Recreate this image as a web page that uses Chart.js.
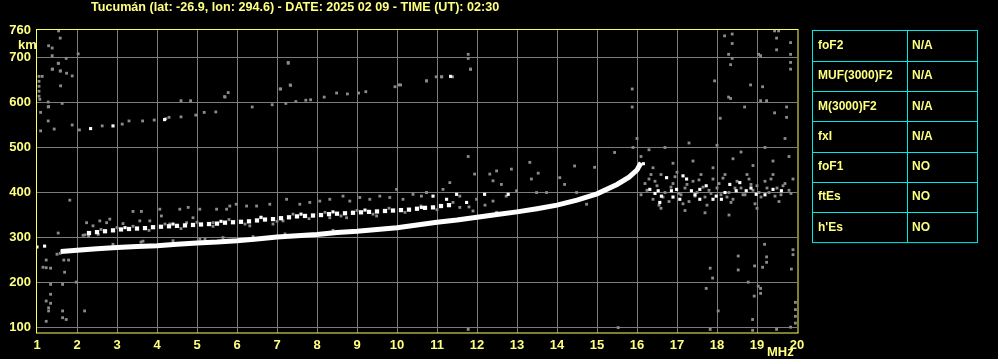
<!DOCTYPE html>
<html lang="es">
<head>
<meta charset="UTF-8">
<title>Ionograma Tucumán</title>
<style>
  body { margin: 0; background: #000; }
</style>
</head>
<body>
<canvas id="ionogram" width="998" height="359"></canvas>
<script src="https://cdn.jsdelivr.net/npm/chart.js@4.4.1/dist/chart.umd.min.js"></script>
<script>
// title & table text
const titleText = 'Tucumán (lat: -26.9, lon: 294.6) - DATE: 2025 02 09 - TIME (UT): 02:30';
const paramNames = ['foF2', 'MUF(3000)F2', 'M(3000)F2', 'fxI', 'foF1', 'ftEs', "h'Es"];
const paramValues = ['N/A', 'N/A', 'N/A', 'N/A', 'NO', 'NO', 'NO'];

// axis ticks
const freqTicks = [1, 2, 3, 4, 5, 6, 7, 8, 9, 10, 11, 12, 13, 14, 15, 16, 17, 18, 19, 20];
const heightTicks = [100, 200, 300, 400, 500, 600, 700, 760];

// main F-trace [MHz, km]
const mainTrace = [[1.6,269],[2.0,272],[2.5,275],[3.0,278],[3.5,280],[4.0,282],[4.5,285],[5.0,288],[5.5,290],[6.0,293],[6.5,297],[7.0,301],[7.5,304],[8.0,307],[8.5,311],[9.0,314],[9.5,318],[10.0,322],[10.5,328],[11.0,334],[11.5,339],[12.0,345],[12.5,351],[13.0,357],[13.5,364],[14.0,372],[14.5,383],[15.0,397],[15.5,418],[15.8,434],[16.0,450],[16.1,466]];

// second trace, bright dots
const secondTrace = [[2.3,310],[2.5,312],[2.7,314],[2.9,316],[3.1,318],[3.3,319],[3.5,320],[3.7,321],[3.9,323],[4.1,324],[4.3,325],[4.5,326],[4.7,327],[4.9,328],[5.1,329],[5.3,330],[5.5,331],[5.7,333],[5.9,334],[6.1,335],[6.3,336],[6.5,338],[6.7,340],[6.9,341],[7.1,343],[7.3,345],[7.5,347],[7.7,348],[7.9,349],[8.1,350],[8.3,352],[8.5,353],[8.7,354],[8.9,355],[9.1,356],[9.3,357],[9.5,358],[9.7,359],[9.9,360],[10.1,361],[10.3,362],[10.5,364],[10.7,366],[10.9,367],[11.1,370],[11.3,372]];

// other bright echoes
const whiteEchoes = [[1.0,279],[1.19,281],[10.9,392],[11.24,385],[11.49,396],[11.74,378],[12.19,396],[12.78,396],[10.61,367],[2.34,542],[2.9,548],[4.19,562],[11.34,658],[3.2,322],[4.4,330],[5.6,336],[6.6,345],[7.6,352],[8.4,357],[9.2,361],
  [16.16,464],[16.32,407],[16.53,404],[16.61,392],[16.74,433],[16.86,404],[16.99,407],[17.15,437],[17.24,430],[17.36,404],[17.57,407],[17.73,415],[17.98,392],[18.11,385],[18.32,418],[18.48,404],[18.57,422],[18.73,404],[18.98,396],[19.4,407],[19.61,404],[16.57,378],[17.07,385],[17.57,385],[17.9,385],[16.45,398],[16.9,390],[17.45,395],[18.2,400],[18.85,410],[19.2,395]];

// grey echoes: second hop
const greyHop = [[2.06,539],[2.63,548],[3.13,552],[3.3,559],[3.64,559],[3.93,561],[4.22,564],[4.3,567],[4.6,568],[4.97,572],[5.18,578],[5.47,579],[6.38,590],[6.88,595],[7.22,598],[7.47,602],[7.72,605],[7.84,606],[8.18,612],[8.76,619],[9.04,621],[9.22,624],[9.95,635],[10.05,639],[10.74,648],[11.12,657],[11.84,674],[4.6,604],[4.84,604],[5.7,612],[5.78,622],[7.09,630],[7.34,638],[7.28,687],[8.49,621],[5.69,613],[7.28,689],[7.08,630],[7.33,639]];

// grey echoes: around the second trace and spread
const greySpread = [[1.82,383],[2.24,333],[2.4,326],[2.57,337],[2.74,333],[2.53,307],[2.82,341],[3.15,331],[3.4,358],[3.61,358],[3.57,337],[3.82,337],[4.07,363],[4.11,348],[4.32,330],[4.57,363],[4.78,367],[5.07,363],[5.49,363],[5.74,363],[5.82,370],[4.9,344],[4.74,333],[5.4,333],[3.65,292],[4.24,285],[2.9,285],[5.07,296],[5.65,300],[2.15,274],
  [2.2,306],[2.6,318],[3.0,322],[3.4,325],[3.8,316],[4.2,330],[4.6,320],[5.0,334],[5.4,325],[5.8,340],[6.2,330],[6.6,344],[7.0,336],[7.4,352],[7.8,342],[8.2,356],[8.6,348],[9.0,360],[9.4,352],[9.8,365],[10.2,356],[10.6,370],[11.0,362],[11.4,378],[11.8,368],[12.2,372],[3.6,290],[4.4,293],[5.2,296],[6.4,302],[7.2,308],[8.4,316],
  [5.98,374],[6.24,370],[6.49,370],[6.82,374],[7.24,385],[7.57,374],[7.82,378],[8.07,381],[8.32,385],[8.65,392],[8.82,381],[9.07,389],[9.32,385],[9.57,392],[9.82,389],[9.99,407],[10.15,385],[10.4,396],[10.61,392],[10.74,400],[6.9,330],[7.15,337],[7.9,348],[8.32,344],[8.74,344],[9.49,348],[6.32,326],
  [11.78,480],[11.94,441],[12.32,441],[12.49,448],[12.4,426],[12.61,418],[12.86,452],[13.32,467],[13.36,430],[13.53,443],[14.07,433],[14.44,459],[14.94,456],[15.44,489],[14.19,418],[11.32,422],[10.74,400],[11.15,407],[11.57,392],[11.99,385],[12.4,381],[12.73,392],[12.99,404],[13.49,400],[13.74,400],[14.49,400],[14.74,374],[11.9,359],[11.57,367],[13.07,359],[12.49,356],
  [16.1,395],[16.2,420],[16.3,430],[16.4,385],[16.5,415],[16.6,440],[16.7,400],[16.8,380],[16.9,420],[17.0,445],[17.1,395],[17.2,410],[17.3,380],[17.4,425],[17.5,400],[17.6,440],[17.7,390],[17.8,405],[17.9,430],[18.0,410],[18.1,395],[18.2,440],[18.3,400],[18.4,385],[18.5,425],[18.6,410],[18.7,395],[18.8,430],[18.9,405],[19.0,415],[19.1,390],[19.2,425],[19.3,400],[19.4,440],[19.5,410],[19.6,395],[19.7,420],[19.8,405],[19.9,430],[16.4,455],[16.9,465],[17.4,470],[17.9,455],[18.4,475],[18.9,460],[19.4,470],[19.8,480],[16.6,365],[17.2,360],[17.7,355],[18.3,350],[19.0,365],[16.3,495],[16.7,500],[17.3,510],[18.0,505],[18.6,490],[19.2,500],[19.7,520],[16.1,480],[15.9,500],[16.0,520],
  [16.25,405],[16.45,425],[16.65,390],[16.85,412],[17.05,398],[17.25,418],[17.45,392],[17.65,412],[17.85,398],[18.05,420],[18.25,390],[18.45,410],[18.65,395],[18.85,418],[19.05,400],[19.25,410],[19.45,392],[19.65,415],[19.85,398],[16.35,440],[16.95,435],[17.55,428],[18.15,432],[18.75,440],[19.35,430],[16.55,372],[17.15,375],[17.75,372],[18.35,378],[18.95,375],[19.55,380]];

// grey echoes: scattered noise
const greyNoise = [[1.05,614],[1.05,625],[1.05,636],[1.05,647],[1.05,658],[1.53,687],[1.39,674],[1.59,670],[1.74,665],[1.88,659],[1.59,637],[1.13,658],[1.28,601],[1.63,598],[1.28,590],[1.09,578],[1.28,559],[1.43,541],[1.88,550],[1.09,537],
  [1.54,759],[1.58,743],[1.29,726],[1.38,721],[1.38,704],[1.73,698],[2.03,708],[1.54,687],[1.38,674],[1.58,670],[1.07,607],[1.29,591],
  [18.19,748],[18.38,752],[18.38,731],[18.29,707],[18.38,698],[18.34,684],[17.94,648],[18.29,612],[18.34,609],[18.69,590],[18.84,639],[19.04,707],[19.09,704],[19.14,635],[19.09,604],[19.24,604],[19.44,759],[19.54,759],[19.49,743],[19.49,717],[19.84,733],[19.84,707],[19.84,689],[19.84,674],[19.74,590],[19.44,577],[19.74,567],[18.08,565],[15.88,630],[15.88,590],[11.78,707],[11.78,698],[11.84,674],[10.74,648],[10.98,657],[11.11,657],[11.39,657],[10.09,639],
  [19.96,156],[19.96,140],[19.96,125],[19.96,110],[19.9,273],[19.9,262],[19.86,230],[19.19,285],[19.24,257],[19.24,245],[19.14,234],[18.53,259],[18.53,228],[18.94,237],[19.03,192],[19.09,187],[19.09,176],[18.93,170],[18.78,201],[18.89,118],[18.89,94],[19.49,96],[19.84,101],[17.83,232],[17.89,210],[17.73,187],[18.03,137],[17.83,96],[11.78,96],[15.53,100],
  [1.15,234],[1.23,233],[1.34,232],[1.23,250],[1.5,263],[1.58,265],[1.67,250],[1.79,250],[1.69,223],[1.61,270],[1.34,196],[1.64,196],[1.98,201],[1.34,174],[1.23,159],[1.34,154],[1.29,144],[1.29,137],[1.64,137],[2.19,137],[1.64,122],[1.73,118],[1.23,114],[1.53,310],[2.15,305],[2.29,303]];

const toXY = arr => arr.map(p => ({ x: p[0], y: p[1] }));
const greyAll = [].concat(greyHop, greySpread, greyNoise);

const yellowText = '#ffff80';
const gridGrey = '#7c7c7c';
const fontFamily = '"Liberation Sans", Arial, sans-serif';

const overlay = {
  id: 'overlay',
  beforeDraw(chart) {
    const c = chart.ctx;
    c.save();
    c.fillStyle = '#000';
    c.fillRect(0, 0, chart.width, chart.height);
    c.restore();
  },
  afterDraw(chart) {
    const c = chart.ctx;
    const a = chart.chartArea;
    c.save();
    // yellow frame
    c.strokeStyle = '#ffff50';
    c.lineWidth = 1;
    c.strokeRect(36.5, a.top - 0.5, a.right - 36 + 0.5, a.bottom - a.top + 0.5);

    c.fillStyle = yellowText;
    c.textBaseline = 'middle';
    c.textAlign = 'left';
    c.font = 'bold 12.6px ' + fontFamily;
    c.fillText(titleText, 91, 8);
    c.font = 'bold 13px ' + fontFamily;
    c.fillText('km', 18, 45);
    c.fillText('MHz', 767, 352);

    // parameter table
    const tx = 812.5, ty = 30.5, tw = 165, rowH = 30.3, colX = 907.5;
    c.strokeStyle = '#00e8e8';
    c.strokeRect(tx, ty, tw, rowH * paramNames.length);
    c.beginPath();
    for (let i = 1; i < paramNames.length; i++) {
      const yy = Math.round(ty + rowH * i) + 0.5;
      c.moveTo(tx, yy);
      c.lineTo(tx + tw, yy);
    }
    c.moveTo(colX, ty);
    c.lineTo(colX, ty + rowH * paramNames.length);
    c.stroke();
    c.font = 'bold 12px ' + fontFamily;
    c.fillStyle = yellowText;
    paramNames.forEach((n, i) => {
      const yy = ty + rowH * i + rowH / 2;
      c.fillText(n, 818, yy);
      c.fillText(paramValues[i], 912, yy);
    });
    c.restore();
  }
};

new Chart(document.getElementById('ionogram'), {
  type: 'scatter',
  data: {
    datasets: [
      {
        type: 'line',
        data: toXY(mainTrace),
        borderColor: '#ffffff',
        borderWidth: 5,
        pointRadius: 0,
        tension: 0,
        order: 0
      },
      {
        data: toXY(secondTrace),
        pointStyle: 'rect',
        pointRadius: 3,
        backgroundColor: '#ffffff',
        borderWidth: 0,
        order: 1
      },
      {
        data: toXY(whiteEchoes),
        pointStyle: 'rect',
        pointRadius: 2.2,
        backgroundColor: '#ffffff',
        borderWidth: 0,
        order: 2
      },
      {
        data: toXY(greyAll),
        pointStyle: 'rect',
        pointRadius: 2,
        backgroundColor: '#8a8a8a',
        borderWidth: 0,
        order: 3
      }
    ]
  },
  options: {
    responsive: false,
    animation: false,
    devicePixelRatio: 1,
    layout: { padding: { top: 30, right: 201, left: 0, bottom: 0 } },
    plugins: { legend: { display: false }, tooltip: { enabled: false } },
    scales: {
      x: {
        type: 'linear',
        min: 1,
        max: 20,
        afterBuildTicks: s => { s.ticks = freqTicks.map(v => ({ value: v })); },
        afterFit: s => { s.height = 26; },
        border: { display: false },
        grid: {
          drawTicks: false,
          color: ctx => (ctx.tick && (ctx.tick.value === 1 || ctx.tick.value === 20)) ? 'rgba(0,0,0,0)' : gridGrey
        },
        ticks: {
          color: yellowText,
          padding: 5,
          maxRotation: 0,
          autoSkip: false,
          font: { family: fontFamily, size: 13, weight: 'bold' }
        }
      },
      y: {
        type: 'linear',
        min: 88,
        max: 761,
        afterBuildTicks: s => { s.ticks = heightTicks.map(v => ({ value: v })); },
        afterFit: s => { s.width = 37; },
        border: { display: false },
        grid: {
          drawTicks: false,
          color: ctx => (ctx.tick && ctx.tick.value === 760) ? 'rgba(0,0,0,0)' : gridGrey
        },
        ticks: {
          color: yellowText,
          padding: 6,
          autoSkip: false,
          font: { family: fontFamily, size: 13, weight: 'bold' }
        }
      }
    }
  },
  plugins: [overlay]
});
</script>
</body>
</html>
